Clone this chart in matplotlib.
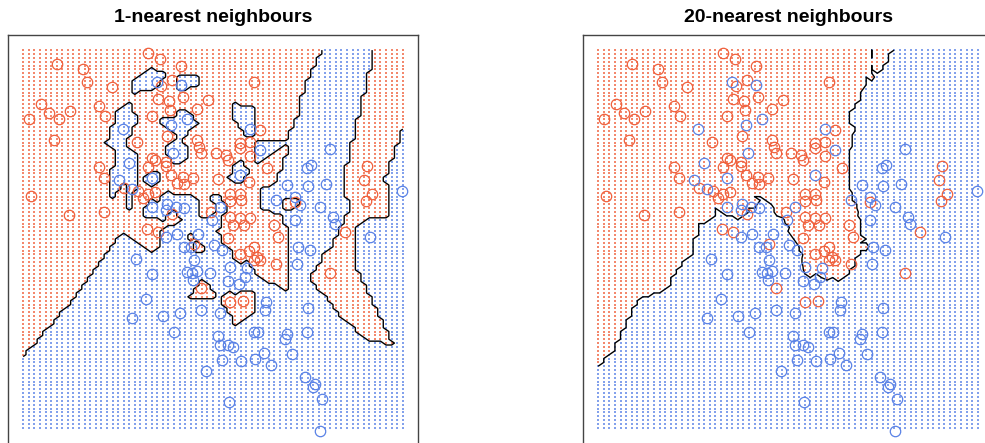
import numpy as np
import matplotlib.pyplot as plt

# training points, class "orange" (1) and class "blue" (0)
red_x = [-0.36, -2.00, -1.52, -1.45, -1.01, -2.28, -2.14, -1.76, -1.24, -1.13,
         -2.50, -1.95, -0.30, -2.05, -0.57, -1.25, -0.36, -0.29, -0.15, 0.22,
         0.07, -0.14, 1.53, -0.19, 0.01, 0.27, 0.71, 0.51, 0.03, -0.02,
         0.52, 0.55, 0.59, 0.86, 1.04, 1.06, 1.29, 1.28, 1.47, 1.64,
         1.46, -0.24, -0.05, -0.05, 1.77, 3.56, -1.15, -2.46, -1.78, -1.15,
         -0.79, -0.55, -0.46, -0.37, -0.39, 0.04, 0.27, 0.45, 0.28, 0.15,
         0.89, -0.24, 1.44, 1.11, 1.28, 1.30, 1.10, 0.07, 0.77, 1.11,
         1.29, 1.46, 1.16, 1.35, 1.89, -0.19, 1.06, 1.97, 0.46, 1.53,
         1.29, 1.44, 1.59, 1.53, 1.65, 1.93, 0.58, 2.27, 3.50, 3.64,
         3.54, 3.16, 2.90, 1.11, 1.34]
red_y = [2.86, 2.72, 2.66, 2.48, 2.42, 2.20, 2.08, 2.11, 2.18, 2.04,
         2.01, 2.00, 2.04, 1.73, 1.71, 1.39, 1.39, 1.50, 2.78, 2.69,
         2.51, 2.43, 2.48, 2.27, 2.24, 2.29, 2.25, 2.14, 2.12, 1.79,
         1.74, 1.64, 1.56, 1.56, 1.54, 1.47, 1.69, 1.63, 1.71, 1.86,
         1.53, 1.48, 1.45, 1.40, 1.37, 1.40, 1.24, 1.01, 0.76, 0.80,
         1.11, 1.07, 0.98, 1.03, 0.58, 1.28, 1.25, 1.24, 1.16, 1.17,
         1.23, 1.06, 1.19, 1.04, 1.03, 0.96, 0.94, 0.77, 0.80, 0.74,
         0.72, 0.72, 0.63, 0.63, 0.63, 0.54, 0.46, 0.47, 0.39, 0.35,
         0.25, 0.29, 0.22, 0.18, 0.18, 0.13, -0.19, 0.93, 1.21, 1.03,
         0.94, 0.54, 0.01, -0.37, -0.36]

blue_x = [-0.82, -0.71, -0.21, 0.23, 0.33, 0.05, 1.47, 1.65, 0.09, 2.90,
          2.55, 2.48, -0.89, -0.65, -0.29, -0.29, -0.58, -0.29, -0.40, 1.29,
          2.13, 1.92, 2.27, -0.03, 0.13, 0.28, -0.05, 0.79, 0.93, -0.05,
          0.15, 0.54, 0.28, 0.40, 0.81, 0.96, 0.46, 1.11, 2.30, 2.33,
          0.33, 0.43, 0.52, 0.74, 0.45, 1.41, 1.06, 1.26, 1.38, 1.75,
          2.51, 2.82, 2.27, 2.36, 2.72, 2.95, 2.99, 4.18, 3.61, 2.54,
          -0.65, -0.09, 0.21, 0.59, 0.93, 0.10, 1.74, 0.89, 0.93, 1.06,
          1.16, 1.53, 1.60, 2.13, 2.09, 1.72, 2.21, 0.96, 1.31, 1.55,
          1.83, 0.68, 1.08, 2.51, 2.49, 2.45, 2.63, 2.59, 2.75, 2.71]
blue_y = [1.88, 1.44, 2.49, 2.45, 2.00, 1.93, 1.88, 1.60, 1.57, 1.62,
          1.41, 1.37, 1.21, 1.10, 1.24, 0.87, 0.19, -0.01, -0.33, 1.28,
          1.15, 0.96, 0.70, 0.90, 0.87, 0.85, 0.83, 0.70, 0.87, 0.48,
          0.52, 0.51, 0.35, 0.35, 0.37, 0.31, 0.18, 0.09, 0.13, 0.35,
          0.02, 0.01, 0.03, 0.01, -0.08, 0.07, -0.10, -0.14, -0.04, -0.37,
          1.14, 1.16, 0.99, 0.89, 0.87, 0.73, 0.64, 1.07, 0.48, 0.31,
          -0.57, -0.55, -0.51, -0.47, -0.51, -0.75, -0.47, -0.81, -0.92, -0.92,
          -0.95, -0.76, -0.76, -0.78, -0.85, -1.03, -1.04, -1.12, -1.13, -1.11,
          -1.18, -1.26, -1.67, -0.44, -0.76, -1.34, -1.43, -1.47, -1.62, -2.04]

titles = ['1-nearest neighbours', '20-nearest neighbours']
k_values = [1, 20]

RED = '#F0603C'
BLUE = '#5A82E6'

# prediction lattice
px1 = np.linspace(-2.6, 4.2, 69)
px2 = np.linspace(-2.0, 2.9, 99)


def knn_prob(k):
    xs = np.array(red_x + blue_x)
    ys = np.array(red_y + blue_y)
    lab = np.array([1.0] * len(red_x) + [0.0] * len(blue_x))
    gx, gy = np.meshgrid(px1, px2)
    d = (gx.ravel()[:, None] - xs[None, :]) ** 2 + (gy.ravel()[:, None] - ys[None, :]) ** 2
    idx = np.argsort(d, axis=1)[:, :k]
    return gx, gy, lab[idx].mean(axis=1).reshape(gx.shape)


def draw_panel(ax, k, title):
    gx, gy, prob = knn_prob(k)
    is_red = prob > 0.5
    ax.scatter(gx[is_red], gy[is_red], s=0.7, marker='s', c=RED, linewidths=0, alpha=0.75)
    ax.scatter(gx[~is_red], gy[~is_red], s=0.7, marker='s', c=BLUE, linewidths=0, alpha=0.75)
    ax.contour(gx, gy, prob, levels=[0.5], colors='black', linewidths=1.0)
    ax.plot(red_x, red_y, 'o', ms=7.5, mfc='none', mec=RED, mew=0.9)
    ax.plot(blue_x, blue_y, 'o', ms=7.5, mfc='none', mec=BLUE, mew=0.9)
    ax.set_xlim(-2.6 - 0.272, 4.2 + 0.272)
    ax.set_ylim(-2.0 - 0.196, 2.9 + 0.196)
    ax.set_xticks([])
    ax.set_yticks([])
    for s in ax.spines.values():
        s.set_color('#444444')
        s.set_linewidth(1.0)
    ax.spines['bottom'].set_visible(False)
    ax.set_title(title, fontsize=14, fontweight='bold', family='Liberation Sans', pad=9)


fig = plt.figure(figsize=(9.85, 4.43), dpi=100)
ax1 = fig.add_axes([8 / 985, 0.0, 410 / 985, 408 / 443])
ax2 = fig.add_axes([583 / 985, 0.0, 410 / 985, 408 / 443])

draw_panel(ax1, k_values[0], titles[0])
draw_panel(ax2, k_values[1], titles[1])

fig.savefig('out.png', dpi=100)
